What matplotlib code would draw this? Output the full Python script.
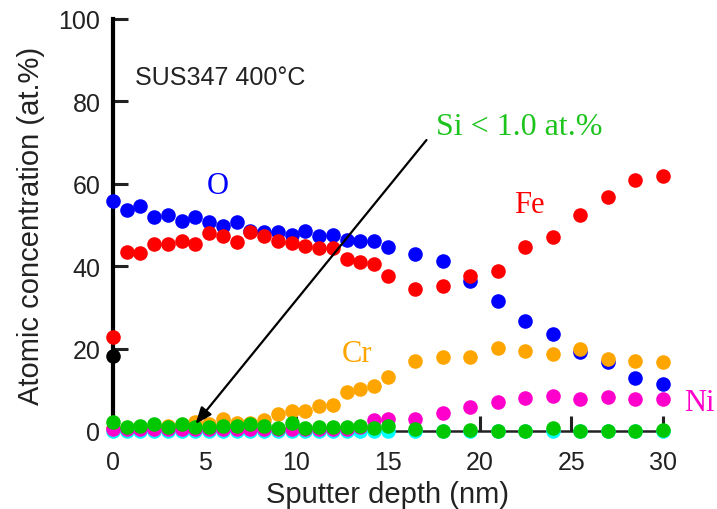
import matplotlib
matplotlib.use("Agg")
from matplotlib import pyplot as plt

# Sputter depth of each measurement (nm)
depth = [0, 0.75, 1.5, 2.25, 3.0, 3.75, 4.5, 5.25, 6.0, 6.75, 7.5,
         8.25, 9.0, 9.75, 10.5, 11.25, 12.0, 12.75, 13.5, 14.25, 15.0,
         16.5, 18.0, 19.5, 21.0, 22.5, 24.0, 25.5, 27.0, 28.5, 30.0]

# Atomic concentration of each element (at.%)
conc_o = [55.9, 53.6, 54.5, 51.9, 52.3, 51.0, 51.9, 50.7, 49.7, 50.8, 48.6,
          48.2, 48.2, 47.6, 48.6, 47.4, 47.6, 46.4, 46.0, 46.1, 44.6,
          43.0, 41.3, 36.3, 31.6, 26.8, 23.5, 19.1, 16.7, 12.8, 11.4]
conc_fe = [22.8, 43.5, 43.3, 45.4, 45.4, 46.2, 45.4, 48.1, 47.4, 45.8, 48.2,
           47.4, 46.2, 45.6, 45.0, 44.4, 44.3, 41.7, 41.1, 40.5, 37.7,
           34.5, 35.3, 37.7, 38.9, 44.6, 47.0, 52.4, 56.7, 61.0, 61.8]
conc_cr = [0.8, 0.8, 1.0, 1.0, 1.2, 1.5, 2.2, 1.8, 2.8, 2.0, 2.0,
           2.7, 4.1, 4.9, 4.9, 6.0, 6.2, 9.5, 10.2, 11.0, 13.0,
           17.1, 17.9, 17.9, 20.1, 19.3, 18.7, 19.9, 17.5, 17.1, 16.7]
conc_ni = [0.4, 0.4, 0.4, 0.4, 0.4, 0.4, 0.4, 0.4, 0.4, 0.4, 0.4,
           0.4, 0.4, 0.4, 0.4, 0.4, 0.4, 0.5, 1.0, 2.6, 2.8,
           2.9, 4.4, 5.7, 7.0, 7.9, 8.6, 7.8, 8.2, 7.8, 7.8]
conc_si = [2.2, 0.9, 1.3, 1.7, 0.9, 1.7, 0.9, 0.9, 1.3, 1.3, 1.7,
           1.1, 0.7, 1.9, 0.6, 0.9, 0.9, 1.0, 1.1, 0.6, 1.1,
           0.4, 0.1, 0.2, 0.0, 0.0, 0.6, 0.0, 0.0, 0.0, 0.2]
conc_n = [0.0, 0.0, 0.0, 0.0, 0.0, 0.0, 0.0, 0.0, 0.0, 0.0, 0.0,
          0.0, 0.0, 0.0, 0.0, 0.0, 0.0, 0.0, 0.0, 0.0, 0.0,
          0.0, 0.0, 0.0, 0.0, 0.0, 0.0, 0.0, 0.0, 0.0, 0.0]
depth_c = [0]
conc_c = [18.3]

x_ticks = [0, 5, 10, 15, 20, 25, 30]
y_ticks = [0, 20, 40, 60, 80, 100]

plt.rcParams['font.family'] = ['Liberation Sans', 'DejaVu Sans']

fig = plt.figure(figsize=(7.17, 5.10), dpi=100)
ax = fig.add_axes([0.1576, 0.153, 0.767, 0.808])

dot = dict(s=110, clip_on=False, linewidths=0)
ax.scatter(depth, conc_o, color='#0000ff', zorder=3, **dot)
ax.scatter(depth, conc_fe, color='#ff0000', zorder=4, **dot)
ax.scatter(depth, conc_cr, color='#ffa500', zorder=5, **dot)
ax.scatter(depth, conc_n, color='#00ffff', zorder=6, **dot)
ax.scatter(depth, conc_ni, color='#ff00cc', zorder=7, **dot)
ax.scatter(depth_c, conc_c, color='#000000', zorder=8, **dot)
ax.scatter(depth, conc_si, color='#00c800', zorder=9, **dot)

ax.set_xlim(0, 30)
ax.set_ylim(0, 100)
ax.set_xticks(x_ticks)
ax.set_yticks(y_ticks)
ax.tick_params(direction='in', length=11, width=2.2, labelsize=18,
               colors='#222222')
ax.tick_params(axis='y', pad=9)
ax.tick_params(axis='x', pad=14)

for side in ('top', 'right'):
    ax.spines[side].set_visible(False)
ax.spines['left'].set_linewidth(3)
ax.spines['bottom'].set_linewidth(1.8)
ax.spines['bottom'].set_color('#222222')

ax.set_xlabel('Sputter depth (nm)', fontsize=21, color='#222222', labelpad=4)
ax.set_ylabel('Atomic concentration (at.%)', fontsize=21, color='#222222',
              labelpad=10)

ax.text(1.2, 86, 'SUS347 400\u00b0C', fontsize=18, color='#222222',
        va='center', ha='left')

serif = ['Liberation Serif', 'DejaVu Serif']
ax.text(5.7, 59.5, 'O', color='#0000ff', fontsize=22, family=serif,
        ha='center', va='center')
ax.text(22.7, 55.0, 'Fe', color='#ff0000', fontsize=22, family=serif,
        ha='center', va='center')
ax.text(13.3, 18.7, 'Cr', color='#ffa500', fontsize=22, family=serif,
        ha='center', va='center')
ax.text(32.0, 7.0, 'Ni', color='#ff00cc', fontsize=22, family=serif,
        ha='center', va='center', clip_on=False)
ax.text(17.6, 73.8, 'Si < 1.0 at.%', color='#1ec41e', fontsize=23,
        family=serif, ha='left', va='center')

ax.annotate('', xy=(4.5, 1.7), xytext=(17.1, 70.6),
            arrowprops=dict(arrowstyle='-|>,head_length=1.0,head_width=0.4',
                            color='black', lw=1.6, shrinkA=0, shrinkB=0),
            zorder=10)

fig.savefig('out.png', dpi=100)
